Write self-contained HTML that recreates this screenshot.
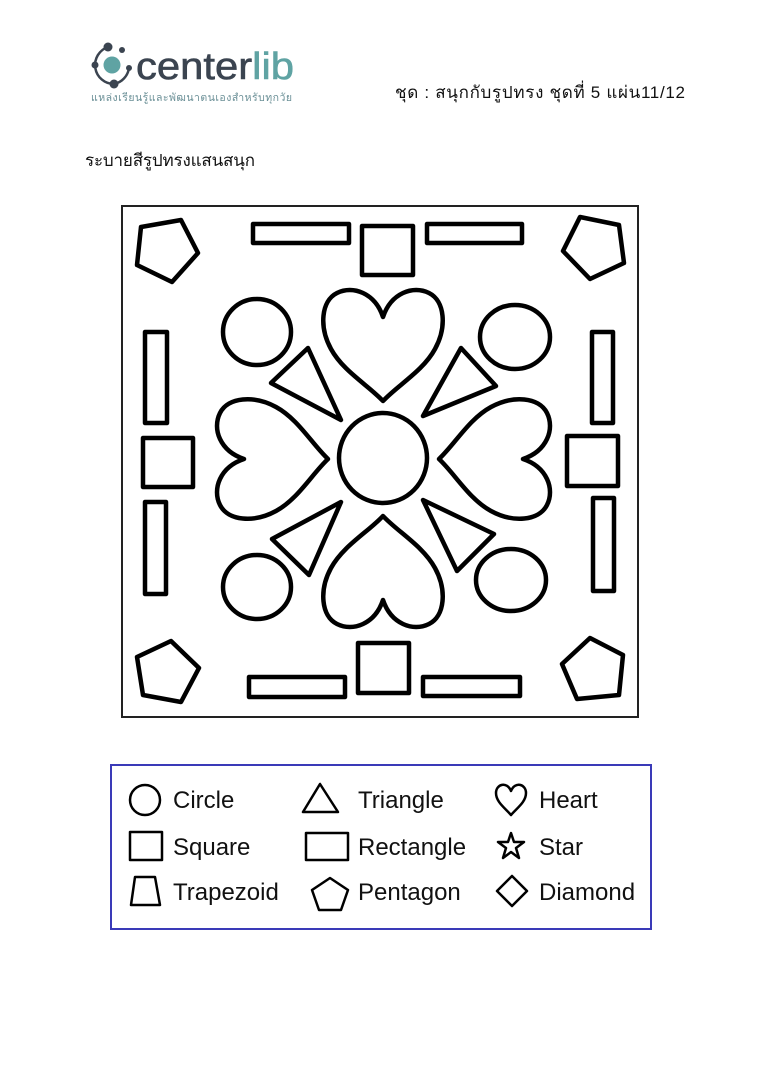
<!DOCTYPE html>
<html><head><meta charset="utf-8"><style>
html,body{margin:0;padding:0;background:#fff;}
body{width:767px;height:1080px;overflow:hidden;position:relative;font-family:"Liberation Sans","Noto Sans CJK SC",sans-serif;}
</style></head><body>
<svg width="767" height="1080" viewBox="0 0 767 1080" xmlns="http://www.w3.org/2000/svg" style="position:absolute;left:0;top:0">
<defs>
<path id="hrt" d="M0,-28 C-8,-52 -30,-60 -46,-52 C-62,-44 -64,-18 -52,4 C-40,26 -15,40 0,56 C15,40 40,26 52,4 C64,-18 62,-44 46,-52 C30,-60 8,-52 0,-28 Z"/>
</defs>
<g fill="none" stroke="#3b4450" stroke-width="2.5">
<path d="M108,47 A19,19 0 0 0 114,84"/>
<path d="M114,84 A19,19 0 0 0 129,68"/>
</g>
<circle cx="112" cy="65" r="8.5" fill="#5fa3a3"/>
<g fill="#3b4450">
<circle cx="108" cy="47" r="4.5"/><circle cx="122" cy="50" r="3"/><circle cx="95" cy="65" r="3.5"/><circle cx="114" cy="84" r="4.5"/><circle cx="129" cy="68" r="3"/>
</g>
<text x="136" y="79" font-size="38" font-family="Liberation Sans, sans-serif" fill="#3b4450" stroke="#3b4450" stroke-width="0.6" textLength="158" lengthAdjust="spacingAndGlyphs">center<tspan fill="#5fa3a3" stroke="#5fa3a3">lib</tspan></text>
<text x="91" y="101" font-size="10.5" fill="#6a8f96" font-family="Liberation Sans, Noto Sans CJK SC, sans-serif" textLength="201">แหล่งเรียนรู้และพัฒนาตนเองสำหรับทุกวัย</text>
<text x="395" y="98" font-size="17" fill="#111" textLength="290">ชุด : สนุกกับรูปทรง  ชุดที่ 5 แผ่น11/12</text>
<text x="85" y="166" font-size="17" fill="#111" textLength="170">ระบายสีรูปทรงแสนสนุก</text>

<rect x="122" y="206" width="516" height="511" fill="none" stroke="#222" stroke-width="2"/>
<g fill="none" stroke="#000" stroke-width="4.5" stroke-linejoin="round">
<polygon points="141,227 181,220 198,253 172,282 137,265"/>
<polygon points="580,217 619,225 624,263 590,279 563,251"/>
<polygon points="171,641 199,668 181,702 143,695 137,657"/>
<polygon points="590,638 623,655 619,695 577,699 562,664"/>
<rect x="253" y="224" width="96" height="19"/>
<rect x="362" y="226" width="51" height="49"/>
<rect x="427" y="224" width="95" height="19"/>
<rect x="249" y="677" width="96" height="20"/>
<rect x="358" y="643" width="51" height="50"/>
<rect x="423" y="677" width="97" height="19"/>
<rect x="145" y="332" width="22" height="91"/>
<rect x="592" y="332" width="21" height="91"/>
<rect x="145" y="502" width="21" height="92"/>
<rect x="593" y="498" width="21" height="93"/>
<rect x="143" y="438" width="50" height="49"/>
<rect x="567" y="436" width="51" height="50"/>
<ellipse cx="257" cy="332" rx="34" ry="33"/>
<ellipse cx="515" cy="337" rx="35" ry="32"/>
<ellipse cx="257" cy="587" rx="34" ry="32"/>
<ellipse cx="511" cy="580" rx="35" ry="31"/>
<ellipse cx="383" cy="458" rx="44" ry="45"/>
<polygon points="308,348 271,383 341,420"/>
<polygon points="461,348 496,386 423,416"/>
<polygon points="341,502 272,539 309,575"/>
<polygon points="423,500 494,534 457,571"/>
<use href="#hrt" transform="translate(383,345)"/>
<use href="#hrt" transform="translate(383,572) rotate(180)"/>
<use href="#hrt" transform="translate(272,459) rotate(-90)"/>
<use href="#hrt" transform="translate(495,459) rotate(90)"/>
</g>

<rect x="111" y="765" width="540" height="164" fill="none" stroke="#3a3ab8" stroke-width="2"/>
<g fill="none" stroke="#000" stroke-width="2.5" stroke-linejoin="round">
<circle cx="145" cy="800" r="15"/>
<polygon points="320,784 303,812 338,812"/>
<path d="M511,815 C505,808 496,802 496,793 C496,784 507,781 511,791 C515,781 526,784 526,793 C526,802 517,808 511,815 Z"/>
<rect x="130" y="832" width="32" height="28"/>
<rect x="306" y="833" width="42" height="27"/>
<polygon points="511,833 514,842 524,842 516,848 519,858 511,852 503,858 506,848 498,842 508,842"/>
<polygon points="135,877 155,877 160,905 131,905"/>
<polygon points="330,878 348,890 341,910 319,910 312,890"/>
<polygon points="512,876 527,891 512,906 497,891"/>
</g>
<g font-size="24" fill="#111" font-family="Liberation Sans, sans-serif">
<text x="173" y="808">Circle</text>
<text x="358" y="808">Triangle</text>
<text x="539" y="808">Heart</text>
<text x="173" y="855">Square</text>
<text x="358" y="855">Rectangle</text>
<text x="539" y="855">Star</text>
<text x="173" y="900">Trapezoid</text>
<text x="358" y="900">Pentagon</text>
<text x="539" y="900">Diamond</text>
</g>
</svg>
</body></html>
